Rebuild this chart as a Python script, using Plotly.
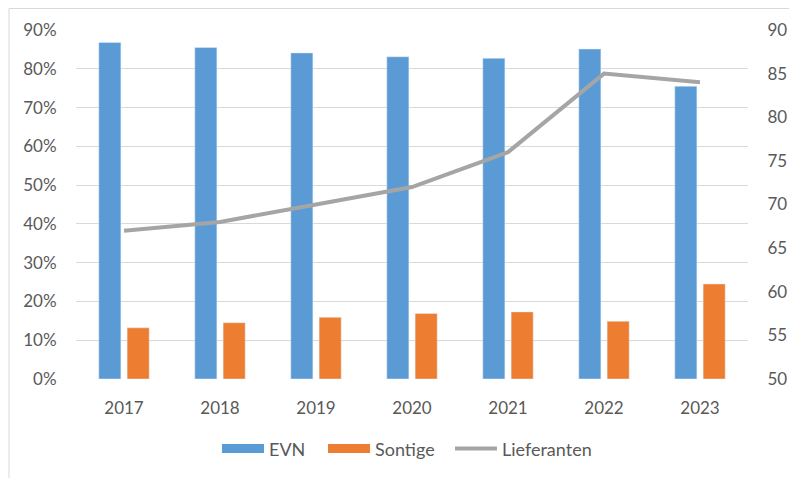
import plotly.graph_objects as go

years = ["2017", "2018", "2019", "2020", "2021", "2022", "2023"]
evn = [86.8, 85.5, 84.1, 83.1, 82.7, 85.1, 75.5]
sontige = [13.2, 14.5, 15.9, 16.9, 17.3, 14.9, 24.5]
lieferanten = [67, 68, 70, 72, 76, 85, 84]

C_EVN = "#5b9bd5"
C_SON = "#ed7d31"
C_LIE = "#a5a5a5"
FONT = "Lato"
TXT = "#595959"

fig = go.Figure()
fig.add_trace(go.Bar(x=years, y=evn, name="EVN", marker=dict(color=C_EVN), showlegend=False))
fig.add_trace(go.Bar(x=years, y=sontige, name="Sontige", marker=dict(color=C_SON), showlegend=False))
fig.add_trace(go.Scatter(x=years, y=lieferanten, name="Lieferanten", mode="lines",
                         line=dict(color=C_LIE, width=4), yaxis="y2", showlegend=False))
# legend-only entries, each in its own legend box
fig.add_trace(go.Scatter(x=[None], y=[None], name="EVN", mode="lines",
                         line=dict(color=C_EVN, width=9), legend="legend"))
fig.add_trace(go.Scatter(x=[None], y=[None], name="Sontige", mode="lines",
                         line=dict(color=C_SON, width=9), legend="legend2"))
fig.add_trace(go.Scatter(x=[None], y=[None], name="Lieferanten", mode="lines",
                         line=dict(color=C_LIE, width=4), legend="legend3"))

leg_common = dict(orientation="h", xanchor="left", y=-0.2, yanchor="middle",
                  font=dict(size=18, color=TXT), itemwidth=42, bgcolor="rgba(0,0,0,0)")

fig.update_layout(
    width=789, height=478,
    margin=dict(l=76, r=41, t=30, b=99, autoexpand=False),
    paper_bgcolor="white", plot_bgcolor="white",
    font=dict(family=FONT, size=17, color=TXT),
    barmode="group", bargap=0.41, bargroupgap=0.22,
    xaxis=dict(showgrid=False, showline=False, zeroline=False, automargin=False,
               ticks="outside", ticklen=14, tickcolor="rgba(0,0,0,0)",
               tickfont=dict(size=17, color=TXT)),
    yaxis=dict(range=[0, 90], dtick=10, ticksuffix="%", showgrid=True, automargin=False,
               gridcolor="#d9d9d9", gridwidth=1, zeroline=False, showline=False,
               ticks="outside", ticklen=15, tickcolor="rgba(0,0,0,0)",
               tickfont=dict(size=17, color=TXT)),
    yaxis2=dict(range=[50, 90], dtick=5, overlaying="y", side="right", automargin=False,
                showgrid=False, zeroline=False, showline=False,
                ticks="outside", ticklen=15, tickcolor="rgba(0,0,0,0)",
                tickfont=dict(size=17, color=TXT)),
    legend=dict(x=0.2098, **leg_common),
    legend2=dict(x=0.3676, **leg_common),
    legend3=dict(x=0.5565, **leg_common),
    shapes=[dict(type="rect", xref="paper", yref="paper",
                 x0=-0.0997, x1=1.07, y0=-0.31, y1=1.0616,
                 line=dict(color="#d9d9d9", width=1), fillcolor="rgba(0,0,0,0)", layer="below")],
)

fig.write_html("out.html", config={"displayModeBar": False},
               post_script="document.body.style.margin='0px';document.body.style.overflow='hidden';")
